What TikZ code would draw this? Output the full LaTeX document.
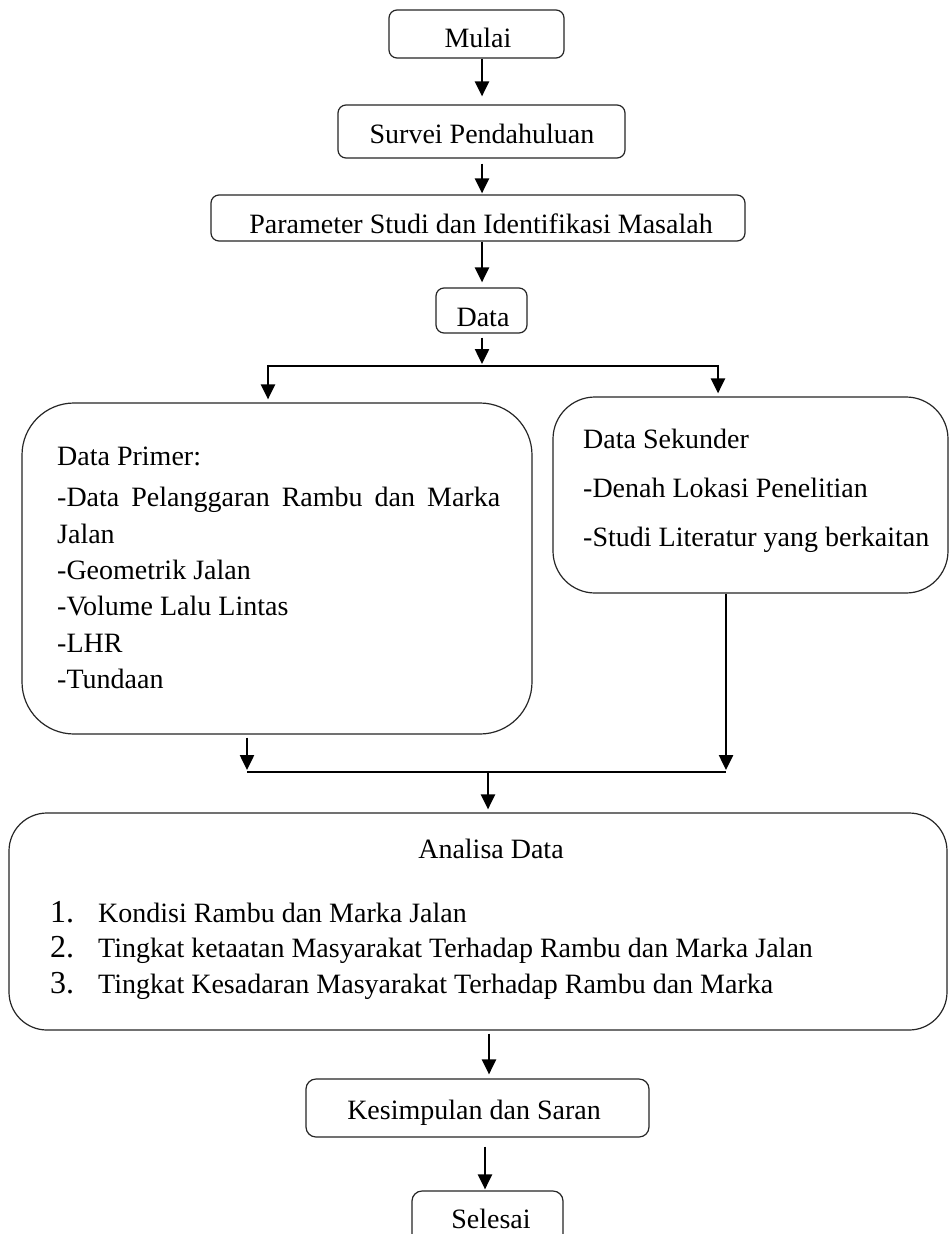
\documentclass[tikz,border=0pt]{standalone}
\usepackage{fontspec}
\setmainfont{Liberation Serif}
\usetikzlibrary{arrows.meta}
\begin{document}
\begin{tikzpicture}[x=1pt,y=-1pt,
  box/.style={draw=black!85, line width=1.2pt, rounded corners=#1, inner sep=0pt},
  box/.default=8pt,
  txt/.style={inner sep=0pt, font=\fontsize{28}{34}\selectfont},
  num/.style={inner sep=0pt, font=\fontsize{32}{38}\selectfont},
  arr/.style={line width=2.5pt, -{Triangle[length=15pt,width=14pt]}},
  ln/.style={line width=2.5pt}]
\useasboundingbox (0,0) rectangle (950,1234);
\clip (0,0) rectangle (950,1234);
\fill[white] (0,0) rectangle (950,1234);

% boxes
\node[box, minimum width=175pt, minimum height=48pt] (mulai) at (476.5,34) {};
\node[box, minimum width=287pt, minimum height=53pt] (survei) at (481.5,131.5) {};
\node[box, minimum width=534pt, minimum height=46pt] (param) at (478,218) {};
\node[box, minimum width=91pt, minimum height=45pt] (data) at (481.5,310.5) {};
\node[box=52pt, minimum width=510pt, minimum height=331pt] (primer) at (277,568.5) {};
\node[box=42pt, minimum width=395pt, minimum height=196pt] (sekunder) at (750.5,495) {};
\node[box=38pt, minimum width=938pt, minimum height=217pt] (analisa) at (478,921.5) {};
\node[box=10pt, minimum width=343pt, minimum height=58pt] (kesimpulan) at (477.5,1108) {};
\node[box=10pt, minimum width=151pt, minimum height=69pt] (selesai) at (487.5,1225.5) {};

% texts
\node[txt, anchor=base] (tmulai) at (478,47) {Mulai};
\node[txt, anchor=base] (tsurvei) at (482,143) {Survei Pendahuluan};
\node[txt, anchor=base] (tparam) at (481,233) {Parameter Studi dan Identifikasi Masalah};
\node[txt, anchor=base] (tdata) at (483,326) {Data};

\node[txt, anchor=base west] (p1) at (57,465) {Data Primer:};
\node[txt, anchor=base west] (p2) at (57,506) {\makebox[443pt][s]{-Data Pelanggaran Rambu dan Marka}};
\node[txt, anchor=base west] (p3) at (57,543) {Jalan};
\node[txt, anchor=base west] (p4) at (57,579) {-Geometrik Jalan};
\node[txt, anchor=base west] (p5) at (57,615) {-Volume Lalu Lintas};
\node[txt, anchor=base west] (p6) at (57,652) {-LHR};
\node[txt, anchor=base west] (p7) at (57,688) {-Tundaan};

\node[txt, anchor=base west] (s1) at (583,448) {Data Sekunder};
\node[txt, anchor=base west] (s2) at (583,497) {-Denah Lokasi Penelitian};
\node[txt, anchor=base west] (s3) at (583,546) {-Studi Literatur yang berkaitan};

\node[txt, anchor=base] (tanalisa) at (491,858) {Analisa Data};
\node[num, anchor=base west] (n1) at (50,922) {1.};
\node[num, anchor=base west] (n2) at (50,957) {2.};
\node[num, anchor=base west] (n3) at (50,993) {3.};
\node[txt, anchor=base west] (a1) at (98,922) {Kondisi Rambu dan Marka Jalan};
\node[txt, anchor=base west] (a2) at (98,957) {Tingkat ketaatan Masyarakat Terhadap Rambu dan Marka Jalan};
\node[txt, anchor=base west] (a3) at (98,993) {Tingkat Kesadaran Masyarakat Terhadap Rambu dan Marka};

\node[txt, anchor=base] (tkesimpulan) at (474,1119) {Kesimpulan dan Saran};
\node[txt, anchor=base] (tselesai) at (491,1228) {Selesai};

% connector helper coordinates
\coordinate (cx) at (482,0);
\coordinate (j1) at (482,366);
\coordinate (jl) at (268,366);
\coordinate (jr) at (718,366);
\coordinate (kl) at (247,772);
\coordinate (kr) at (726,772);
\coordinate (km) at (488,772);
\coordinate (cx2) at (489,0);
\coordinate (cx3) at (485,0);

% connectors
\draw[arr, shorten >=8pt] (mulai.south -| cx) -- (survei.north -| cx);
\draw[arr, shorten <=5pt, shorten >=1pt] (survei.south -| cx) -- (param.north -| cx);
\draw[arr, shorten >=5pt] (param.south -| cx) -- (data.north -| cx);
\draw[arr, shorten <=4pt, shorten >=2pt] (data.south -| cx) -- (j1);
\draw[ln] (jl) -- (jr);
\draw[arr, shorten >=3pt] ([yshift=1.25pt]jl) -- (primer.north -| jl);
\draw[arr, shorten >=3pt] ([yshift=1.25pt]jr) -- (sekunder.north -| jr);
\draw[arr, shorten <=3pt, shorten >=2pt] (primer.south -| kl) -- (kl);
\draw[arr, shorten >=2pt] (sekunder.south -| kr) -- (kr);
\draw[ln] (kl) -- (kr);
\draw[arr, shorten >=3pt] ([yshift=1.25pt]km) -- (analisa.north -| km);
\draw[arr, shorten <=3pt, shorten >=4pt] (analisa.south -| cx2) -- (kesimpulan.north -| cx2);
\draw[arr, shorten <=9pt, shorten >=1pt] (kesimpulan.south -| cx3) -- (selesai.north -| cx3);
\end{tikzpicture}
\end{document}
